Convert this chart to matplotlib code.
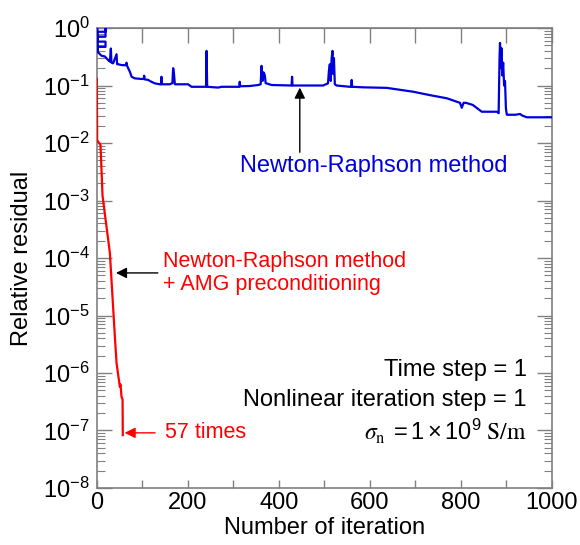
import matplotlib
matplotlib.use("Agg")
import matplotlib.pyplot as plt
from matplotlib.ticker import MultipleLocator, LogLocator, NullFormatter, LogFormatterSciNotation

plt.rcParams["font.family"] = ["Liberation Sans", "DejaVu Sans"]
plt.rcParams["mathtext.default"] = "regular"

# ---------------------------------------------------------------------------
# Data
# ---------------------------------------------------------------------------

# plain Newton-Raphson (blue)
nr_iter = [1, 1, 1, 19, 19, 19, 1, 1, 19, 19, 1, 1, 10, 17.6, 24.8, 28.6, 30.8, 32,
           35.8, 43.3, 44.5, 46.8, 54.3, 63, 65.3, 66.5, 68.8, 72.5, 76.3, 83.5,
           98, 103, 104, 105, 112.7, 120, 127.5, 138.5, 141, 142, 143, 160, 166,
           167.7, 169.5, 171.4, 200.7, 208, 240, 241, 242.5, 266.6, 274, 313, 314,
           315, 336, 354.5, 360, 362, 364, 366, 369, 371, 384, 428, 429, 430, 497,
           508, 510, 512, 514, 516, 518, 519, 521, 523, 527, 556, 559, 560, 561,
           585, 637, 695, 732, 769, 798, 802, 806, 811, 826, 846, 879, 883, 885,
           886, 888, 889, 891, 893, 895, 897, 899, 901, 920, 930, 935, 945, 1000]
nr_res = [1.0, 0.39, 0.86, 0.86, 1.0, 0.71, 0.71, 0.58, 0.58, 0.47, 0.47, 0.39, 0.33,
          0.32, 0.277, 0.26, 0.44, 0.25, 0.243, 0.35, 0.235, 0.234, 0.227, 0.225,
          0.25, 0.22, 0.2, 0.174, 0.142, 0.133, 0.13, 0.13, 0.148, 0.128, 0.125,
          0.116, 0.109, 0.105, 0.105, 0.142, 0.105, 0.105, 0.11, 0.2, 0.16, 0.105,
          0.105, 0.095, 0.095, 0.4, 0.095, 0.092, 0.095, 0.095, 0.116, 0.097,
          0.098, 0.102, 0.105, 0.22, 0.12, 0.17, 0.152, 0.11, 0.102, 0.1, 0.142,
          0.1, 0.1, 0.109, 0.18, 0.234, 0.12, 0.3, 0.4, 0.16, 0.3, 0.105, 0.1,
          0.095, 0.095, 0.125, 0.095, 0.093, 0.091, 0.078, 0.068, 0.06, 0.05,
          0.041, 0.05, 0.05, 0.046, 0.035, 0.035, 0.033, 0.3, 0.55, 0.2, 0.45,
          0.15, 0.25, 0.1, 0.12, 0.04, 0.031, 0.031, 0.032, 0.03, 0.028, 0.028]

# Newton-Raphson + AMG preconditioning (red)
amg_iter = [0, 0.7, 3, 8, 12.5, 28.6, 39.6, 43.3, 48.4, 50.5, 52, 54.3, 56.5, 57]
amg_res = [0.13, 0.0112, 0.0105, 0.0093, 0.0012, 1.23e-4, 4.27e-6, 1.48e-6,
           7.6e-7, 5.75e-7, 6.3e-7, 3.8e-7, 3.5e-7, 8.3e-8]

BLUE = "#0000dd"
RED = "#ff0000"
GREY = "#808080"

fig = plt.figure(figsize=(5.8, 5.45), dpi=100)
ax = fig.add_axes([0.167, 0.1046, 0.7845, 0.844])

ax.plot(nr_iter, nr_res, color=BLUE, lw=1.6, zorder=3)
ax.plot(amg_iter, amg_res, color=RED, lw=1.6, zorder=3)

ax.set_yscale("log")
ax.set_xlim(0, 1000)
ax.set_ylim(1e-8, 1)

# ── ticks ────────────────────────────────────────────────────────────────
ax.xaxis.set_major_locator(MultipleLocator(200))
ax.xaxis.set_minor_locator(MultipleLocator(100))
ax.yaxis.set_major_locator(LogLocator(base=10, numticks=20))
ax.yaxis.set_major_formatter(LogFormatterSciNotation())
ax.yaxis.set_minor_locator(LogLocator(base=10, subs=range(2, 10), numticks=100))
ax.yaxis.set_minor_formatter(NullFormatter())

ax.tick_params(axis="x", which="both", direction="in", length=6, width=1,
               color=GREY, labelsize=17, pad=3, top=False)
ax.tick_params(axis="y", which="major", direction="in", length=10.5, width=1,
               color=GREY, labelsize=17, pad=5, right=True)
ax.tick_params(axis="y", which="minor", direction="in", length=5.5, width=0.8,
               color=GREY, right=True)

top = ax.secondary_xaxis("top")
top.xaxis.set_major_locator(MultipleLocator(100))
top.xaxis.set_major_formatter(NullFormatter())
top.tick_params(direction="in", length=10.5, width=1, color=GREY, labeltop=False)
top.spines["top"].set_color(GREY)

for sp in ax.spines.values():
    sp.set_color(GREY)
    sp.set_linewidth(1.2)

ax.set_xlabel("Number of iteration", fontsize=17, labelpad=2)
ax.set_ylabel("Relative residual", fontsize=17)
ax.yaxis.set_label_coords(-0.14, 0.5)

# ── annotations ──────────────────────────────────────────────────────────
arrow_k = dict(arrowstyle="-|>", color="black", lw=1.0, mutation_scale=16,
               shrinkA=0, shrinkB=0)
arrow_r = dict(arrowstyle="-|>", color=RED, lw=1.0, mutation_scale=16,
               shrinkA=0, shrinkB=0)

ax.annotate("", xy=(446, 0.092), xytext=(446, 0.0069), arrowprops=arrow_k)
ax.text(314, 0.004, "Newton-Raphson method", color=BLUE, fontsize=17,
        ha="left", va="center")

ax.annotate("", xy=(42, 5.5e-5), xytext=(134, 5.5e-5), arrowprops=arrow_k)
ax.text(145, 5.5e-5, "Newton-Raphson method\n+ AMG preconditioning", color=RED,
        fontsize=15.5, ha="left", va="center", linespacing=1.15)

ax.annotate("", xy=(61, 9.1e-8), xytext=(128, 9.1e-8), arrowprops=arrow_r)
ax.text(149, 9.1e-8, "57 times", color=RED, fontsize=15.5, ha="left", va="center")

ax.text(0.945, 0.2565, "Time step = 1", transform=ax.transAxes, fontsize=17,
        ha="right", va="center")
ax.text(0.945, 0.191, "Nonlinear iteration step = 1", transform=ax.transAxes,
        fontsize=17, ha="right", va="center")
ax.text(0.945, 0.122, r"$\mathit{\sigma}_{\rm n}\ =1\times10^{9}\ \mathrm{S/m}$",
        transform=ax.transAxes, fontsize=17, ha="right", va="center",
        math_fontfamily="stix")

fig.savefig("out.png", dpi=100)
